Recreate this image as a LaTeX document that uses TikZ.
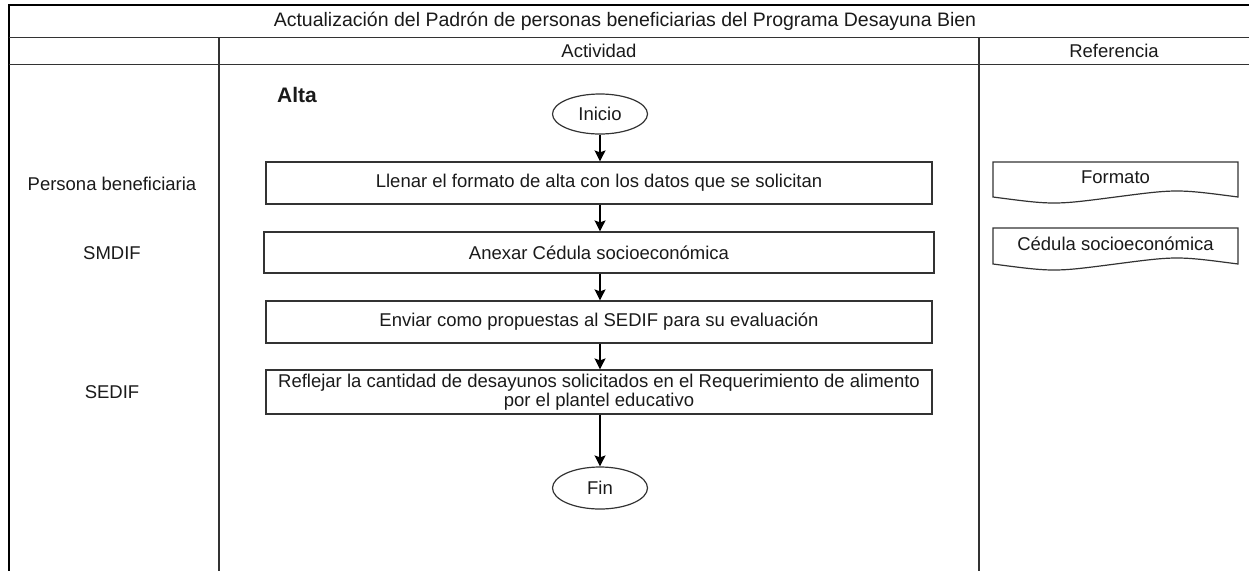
\documentclass[tikz,border=0pt]{standalone}
\usepackage{fontspec}
\setmainfont{Liberation Sans}
\usetikzlibrary{arrows.meta,shapes.geometric}
\definecolor{ln}{HTML}{333333}
\definecolor{tx}{HTML}{1A1A1A}
\begin{document}
\begin{tikzpicture}[x=1pt,y=-1pt,
  every node/.style={text=tx,font=\fontsize{18.5}{18.5}\selectfont},
  grid/.style={draw=ln,line width=1.4pt},
  procbox/.style={draw=ln,line width=1.2pt,minimum height=42pt,inner sep=0pt,align=center},
  term/.style={draw=ln,line width=1.2pt,ellipse,minimum width=95pt,minimum height=40pt,inner sep=0pt},
  flow/.style={draw=black,line width=1.3pt,-{Stealth[length=11pt,width=11pt,inset=2pt]}},
  docshape/.style={draw=ln,line width=1.2pt,fill=white},
  lane/.style={anchor=center}]
\useasboundingbox (0,0) rectangle (1249,571);
% table grid
\draw[line width=1.8pt,black] (1249,5) -- (9,5) -- (9,571);
\draw[grid] (9,37.5) -- (1249,37.5);
\draw[grid] (9,64.5) -- (1249,64.5);
\draw[grid] (219,37.5) -- (219,571);
\draw[grid] (979,37.5) -- (979,571);
% headers
\node[font=\fontsize{19.5}{19.5}\selectfont] (title) at (625,21) {Actualización del Padrón de personas beneficiarias del Programa Desayuna Bien};
\node (act) at (599,51) {Actividad};
\node (ref) at (1114,51) {Referencia};
% lanes
\node[lane] (l1) at (112,184) {Persona beneficiaria};
\node[lane] (l2) at (112,253) {SMDIF};
\node[lane] (l3) at (112,392) {SEDIF};
\node[font=\bfseries\fontsize{21}{21}\selectfont] (alta) at (297,95) {Alta};
% flow
\node[term] (ini) at (600,114) {Inicio};
\node[procbox,minimum width=666pt] (b1) at (599,183) {Llenar el formato de alta con los datos que se solicitan};
\node[procbox,minimum width=670pt,minimum height=41pt] (b2) at (599,252.5) {Anexar Cédula socioeconómica};
\node[procbox,minimum width=666pt] (b3) at (599,322) {Enviar como propuestas al SEDIF para su evaluación};
\node[procbox,minimum width=666pt,minimum height=44pt] (b4) at (599,392) {Reflejar la cantidad de desayunos solicitados en el Requerimiento de alimento\\por el plantel educativo};
\node[term,minimum height=42pt] (fin) at (600,488) {Fin};
\draw[flow] (ini.south) -- (ini.south |- b1.north);
\draw[flow] (b1.south -| ini.south) -- (b2.north -| ini.south);
\draw[flow] (b2.south -| ini.south) -- (b3.north -| ini.south);
\draw[flow] (b3.south -| ini.south) -- (b4.north -| ini.south);
\draw[flow] (b4.south -| ini.south) -- (fin.north);
% reference documents
\draw[docshape] (993,162) -- (1238,162) -- (1238,197)
  .. controls (1177,189) .. (1115.5,197) .. controls (1054,205) .. (993,197) -- cycle;
\node (d1) at (1115.5,177) {Formato};
\draw[docshape] (993,228) -- (1238,228) -- (1238,264)
  .. controls (1177,256) .. (1115.5,264) .. controls (1054,272) .. (993,264) -- cycle;
\node (d2) at (1115.5,244) {Cédula socioeconómica};
\end{tikzpicture}
\end{document}
